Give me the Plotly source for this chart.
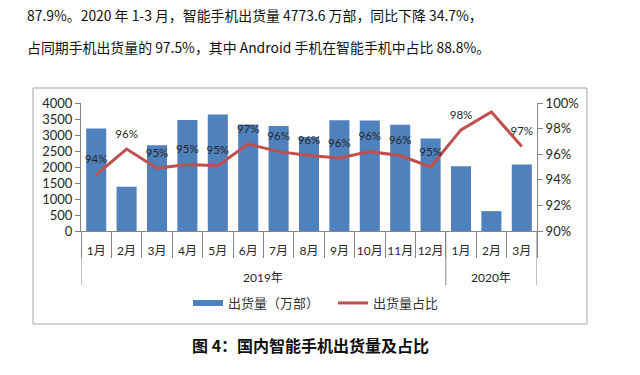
import plotly.graph_objects as go

years = ["2019年"] * 12 + ["2020年"] * 3
months = ["1月", "2月", "3月", "4月", "5月", "6月", "7月", "8月", "9月", "10月", "11月", "12月",
          "1月", "2月", "3月"]
shipments = [3200, 1380, 2680, 3470, 3640, 3330, 3280, 2940, 3460, 3450, 3320, 2890,
             2020, 620, 2080]
share = [94.4, 96.4, 94.9, 95.2, 95.1, 96.8, 96.2, 95.9, 95.7, 96.2, 95.9, 95.0,
         97.9, 99.3, 96.6]
share_labels = ["94%", "96%", "95%", "95%", "95%", "97%", "96%", "96%", "96%", "96%",
                "96%", "95%", "98%", "99%", "97%"]
left_ticks = [0, 500, 1000, 1500, 2000, 2500, 3000, 3500, 4000]
right_ticks = [90, 92, 94, 96, 98, 100]

# unique category keys (year + month); the axis shows the month part
cats = [f"{y} {m}" for y, m in zip(years, months)]
year_names = ["2019年", "2020年"]

W, H = 640, 375
CH = "Noto Sans CJK SC"
LAT = "Lato, Noto Sans CJK SC"
BLUE = "#4F81BD"
RED = "#C0504D"
AX = "#868686"

def px(x):
    return x / W

def py(y):
    return 1 - y / H

fig = go.Figure()
fig.add_trace(go.Bar(
    x=cats, y=shipments, marker=dict(color=BLUE, line=dict(width=0)),
    name="出货量（万部）", showlegend=False, yaxis="y"))
fig.add_trace(go.Scatter(
    x=cats, y=share, mode="lines+markers+text", yaxis="y2",
    line=dict(color=RED, width=3), marker=dict(size=12, color="rgba(0,0,0,0)"),
    text=share_labels, textposition="top center",
    textfont=dict(family=LAT, size=11.5, color="#262626"),
    name="出货量占比", showlegend=False))
# legend entries (on a hidden helper axis pair)
fig.add_trace(go.Scatter(x=[0], y=[0], mode="lines", line=dict(color=BLUE, width=6),
                         name="出货量（万部）", xaxis="x2", yaxis="y3"))
fig.add_trace(go.Scatter(x=[0], y=[0], mode="lines", line=dict(color=RED, width=3),
                         name="出货量占比", xaxis="x2", yaxis="y3"))

# year group positions (category index) and group boundaries
groups = {}
for i, y in enumerate(years):
    groups.setdefault(y, []).append(i)
year_centers = [(groups[y][0] + groups[y][-1]) / 2 for y in year_names]
boundaries = [groups[year_names[0]][0] - 0.5] + [groups[y][-1] + 0.5 for y in year_names]

shapes = [dict(type="rect", xref="paper", yref="paper", x0=px(33), x1=px(587),
               y0=py(324), y1=py(88), line=dict(color="#A6A6A6", width=1), layer="below")]
for b in boundaries:
    shapes.append(dict(type="line", xref="x", yref="paper", x0=b, x1=b,
                       y0=py(285), y1=py(231), line=dict(color=AX, width=1)))

annotations = [
    dict(text="87.9%。2020 年 1-3 月，智能手机出货量 4773.6 万部，同比下降 34.7%，",
         x=px(25), y=py(15), xref="paper", yref="paper", xanchor="left", yanchor="middle",
         showarrow=False, font=dict(family=CH, size=13.9, color="#111111")),
    dict(text="占同期手机出货量的 97.5%，其中 Android 手机在智能手机中占比 88.8%。",
         x=px(25), y=py(47), xref="paper", yref="paper", xanchor="left", yanchor="middle",
         showarrow=False, font=dict(family=CH, size=13.9, color="#111111")),
    dict(text="<b>图 4：国内智能手机出货量及占比</b>",
         x=px(310), y=py(345), xref="paper", yref="paper", xanchor="center",
         yanchor="middle", showarrow=False, font=dict(family=CH, size=16, color="#111111")),
]
for name, c in zip(year_names, year_centers):
    annotations.append(dict(text=name, x=c, y=py(277), xref="x", yref="paper",
                            xanchor="center", yanchor="middle", showarrow=False,
                            font=dict(family=LAT, size=12, color="#262626")))

fig.update_layout(
    width=W, height=H, margin=dict(l=0, r=0, t=0, b=0),
    paper_bgcolor="white", plot_bgcolor="white",
    bargap=0.34,
    font=dict(family=LAT, size=12, color="#262626"),
    xaxis=dict(type="category", domain=[px(81), px(537)], showline=True, linecolor=AX,
               tickvals=cats, ticktext=months, tickson="boundaries",
               ticks="outside", ticklen=26, tickcolor=AX, ticklabelstandoff=9,
               tickfont=dict(family=LAT, size=12), range=[-0.5, len(cats) - 0.5],
               tickangle=0, automargin=False, showgrid=False, zeroline=False),
    yaxis=dict(domain=[py(231), py(103)], range=[0, 4000], tickvals=left_ticks,
               showline=True, linecolor=AX, ticks="outside", ticklen=5, tickcolor=AX,
               automargin=False,
               showgrid=False, zeroline=False, tickfont=dict(family=LAT, size=13)),
    yaxis2=dict(overlaying="y", side="right", range=[90, 100], tickvals=right_ticks,
                ticktext=[f"{v}%" for v in right_ticks], automargin=False,
                showline=True, linecolor=AX, ticks="outside", ticklen=5, tickcolor=AX,
                showgrid=False, zeroline=False, tickfont=dict(family=LAT, size=13)),
    xaxis2=dict(domain=[0, 0.001], visible=False, anchor="y3"),
    yaxis3=dict(domain=[0, 0.001], visible=False, anchor="x2"),
    legend=dict(orientation="h", x=px(188), y=py(303), xanchor="left", yanchor="middle",
                font=dict(family=CH, size=13, color="#333333"), bgcolor="rgba(0,0,0,0)",
                itemwidth=30, tracegroupgap=0, entrywidth=100),
    shapes=shapes,
    annotations=annotations,
)

fig.write_html("out.html", config={"displayModeBar": False},
               post_script="document.body.style.margin='0';")
